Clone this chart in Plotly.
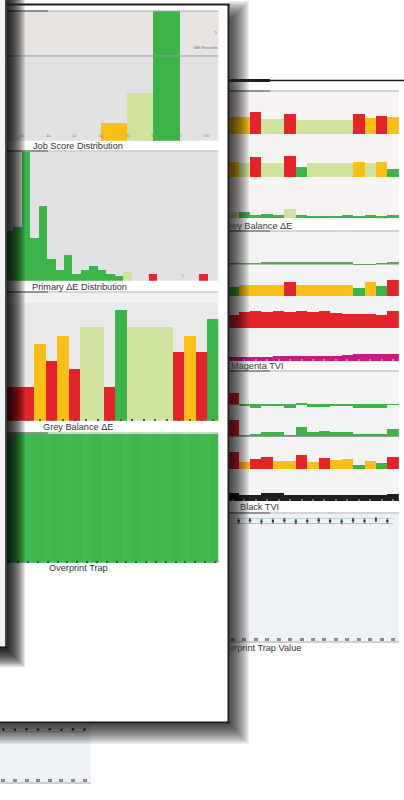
import plotly.graph_objects as go

W, H = 404, 800

G = "#3cb44a"
LG = "#cfe39e"
Y = "#fbbd18"
R = "#e2252b"
MG = "#c8197f"
K = "#1f1f1f"

# ---------------- Page A (front page) ----------------
job_score_bins = [65, 75, 85]
job_score_share = [8, 22, 70]
job_score_colors = [Y, LG, G]
job_score_ticks = [30, 40, 50, 60, 70, 80, 90, 100]
job_score_percentile = 39.2

primary_de_bins = list(range(-1, 23))
primary_de_counts = [11.5, 12.5, 31, 10, 17.5, 5, 2.5, 6, 1.5, 2.5, 3.5, 2.5,
                     1.5, 1, 2, 0, 0, 1.5, 0, 0, 0, 0, 0, 1.5]
primary_de_colors = [G, G, G, G, G, G, G, G, G, G, G, G, G, G, LG, G, G, R,
                     G, G, G, G, G, R]
primary_de_ticks = [0, 4, 8, 12, 16, 20]
primary_de_ticktext = ["0", "1", "2", "3", "4", "5"]

grey_a_patches = list(range(-1, 18))
grey_a_de = [1.07, 1.07, 1.07, 2.39, 1.87, 2.66, 1.61, 2.93, 2.93, 1.07, 3.47,
             2.93, 2.93, 2.93, 2.93, 2.14, 2.66, 2.14, 3.19]
grey_a_colors = [R, R, R, Y, R, Y, R, LG, LG, R, G, LG, LG, LG, LG, R, Y, R, G]

trap_a_patches = list(range(-2, 21))
trap_a_pct = [100, 100, 100, 100, 100, 100, 100, 100, 100, 100, 100, 100,
              100, 100, 100, 100, 100, 100, 100, 100, 100, 100, 100]

# ---------------- Page B (back page) ----------------
b_patches = list(range(15))

gb_row1 = [1.73, 1.73, 2.23, 1.47, 1.47, 2.0, 1.45, 1.45, 1.4, 1.4, 1.4, 1.97, 1.57, 1.83, 1.73]
gb_row1_c = [Y, Y, R, LG, LG, R, LG, LG, LG, LG, LG, R, Y, R, Y]
gb_row2 = [1.56, 1.46, 2.0, 1.4, 1.4, 2.13, 1.0, 1.4, 1.4, 1.4, 1.4, 1.56, 1.4, 1.56, 0.83]
gb_row2_c = [Y, LG, R, LG, LG, R, G, LG, LG, LG, LG, Y, LG, Y, G]
gb_row3 = [0.6, 0.65, 0.3, 0.4, 0.3, 0.9, 0.3, 0.25, 0.25, 0.25, 0.3, 0.25, 0.3, 0.2, 0.3]
gb_row3_c = [LG, G, G, G, G, LG, G, G, G, G, G, G, G, G, G]

mag_a = [1, 1, 1, 1.3, 1.3, 1.5, 1.5, 2, 1.5, 1.5, 1.3, -1, -0.5, 1, 2.5]
mag_b = [8.7, 11, 11, 11, 11, 14.3, 11.5, 11.5, 11, 11, 11, 7.7, 13.7, 10, 16]
mag_b_c = [G, Y, Y, Y, Y, R, Y, Y, Y, Y, Y, G, Y, G, R]
mag_c = [13.3, 16.8, 17, 16.8, 17, 16.8, 17, 16.5, 17, 15, 14, 14, 14, 13.5, 17.3]
mag_d = [4, 4, 4, 4.5, 5, 5, 5.5, 5, 5, 5.5, 6, 7, 7, 7, 7.5]

blk_a = [11, -1.3, -4, -1.3, -1.3, -3.3, 0.7, -2.5, -2.5, -2, -2, -4, -4, -3.5, -0.7]
blk_a_c = [R, G, G, G, G, G, G, G, G, G, G, G, G, G, G]
blk_b = [16, 0.7, 2, 4, 4, 1, 9.3, 4.3, 5.3, 4.3, 3.7, 2, 2, 1.5, 6.7]
blk_b_c = [R, G, G, G, G, G, G, G, G, G, G, G, G, G, G]
blk_c = [17.7, 7.7, 10, 12, 8, 8, 14.3, 7.7, 11.7, 9.3, 10.3, 4.3, 8.3, 6.7, 12.7]
blk_c_c = [R, Y, R, R, Y, Y, R, Y, R, Y, Y, G, Y, G, R]
blk_d = [8.3, 6, 6, 8, 8, 6, 6, 6, 6, 6, 6, 6, 6, 6.5, 7]

otv_pos = [0.5, 1.5, 2.5, 3.5, 4.5, 5.5, 6.5, 7.5, 8.5, 9.5, 10.5, 11.5, 12.5, 13.5]
otv_val = [94.5, 95, 94, 94.5, 95, 94, 94.5, 95, 94.5, 94, 95, 94.5, 95.5, 94.5]
otv_target = 92.5
otv_upper = 96.5

# ---------------- Page D (bottom-left fragment) ----------------
d_pos = [0, 1, 2, 3, 4, 5, 6, 7]
d_val = [90.5, 90, 91, 90.5, 91, 90, 91, 90.5]
d_target = 86.5

# =====================================================================
fig = go.Figure()
layout = {}


def axes(n, xd, yd, xr, yr, xextra=None, yextra=None):
    xa = dict(domain=[xd[0] / W, xd[1] / W], range=xr, anchor="y%d" % n,
              showgrid=False, zeroline=False, showticklabels=False,
              ticks="", showline=False, fixedrange=True)
    ya = dict(domain=[1 - yd[1] / H, 1 - yd[0] / H], range=yr, anchor="x%d" % n,
              visible=False, showgrid=False, zeroline=False, fixedrange=True)
    if xextra:
        xa.update(xextra)
    if yextra:
        ya.update(yextra)
    layout["xaxis%d" % n] = xa
    layout["yaxis%d" % n] = ya


def bars(n, x, y, colors, width=1):
    fig.add_trace(go.Bar(x=x, y=y, width=width,
                         marker=dict(color=colors, line=dict(width=0)),
                         xaxis="x%d" % n, yaxis="y%d" % n,
                         showlegend=False, hoverinfo="skip"))


AX0, AX1 = 7, 218.3
BX0, BX1 = 229, 398.85
BXR = [-0.334, 14.5]

# 1 Job score distribution
axes(1, (AX0, AX1), (11, 140.7), [24.3, 104.67], [0, 60],
     xextra=dict(tickvals=job_score_ticks, ticktext=[str(t) for t in job_score_ticks],
                 showticklabels=True, ticklabelposition="inside",
                 tickfont=dict(size=4, color="#8a8a8a", family="Liberation Sans")))
bars(1, job_score_bins, job_score_share, job_score_colors, width=10)
fig.add_trace(go.Scatter(x=[job_score_ticks[0] - 10, job_score_ticks[-1] + 10],
                         y=[job_score_percentile, job_score_percentile], mode="lines",
                         line=dict(color="#9a9a9a", width=1), xaxis="x1", yaxis="y1",
                         showlegend=False, hoverinfo="skip"))

# 2 Primary dE distribution
axes(2, (AX0, AX1), (152, 280.7), [-0.746, 24.26], [0, 30],
     xextra=dict(tickvals=primary_de_ticks, ticktext=primary_de_ticktext,
                 showticklabels=True, ticklabelposition="inside",
                 tickfont=dict(size=4, color="#8a8a8a", family="Liberation Sans")))
bars(2, [b + 0.5 for b in primary_de_bins], primary_de_counts, primary_de_colors)

# 3 Grey balance (page A)
axes(3, (AX0, AX1), (293, 420.7), [-0.857, 17.44], [0, 4],
     xextra=dict(tickvals=grey_a_patches, ticks="inside", ticklen=2, tickwidth=1.5,
                 tickcolor="#5a5a3a"))
bars(3, grey_a_patches, grey_a_de, grey_a_colors)

# 4 Overprint trap (page A)
axes(4, (AX0, AX1), (434, 562.7), [-1.15, 20.35], [0, 100],
     xextra=dict(tickvals=trap_a_patches, ticks="inside", ticklen=2, tickwidth=2,
                 tickcolor="#1f6a2c"))
bars(4, trap_a_patches, trap_a_pct,
     ["#3db64b" if i % 2 == 0 else "#43b950" for i in range(len(trap_a_patches))])

# 5-7 Grey balance (page B)
axes(5, (BX0, BX1), (98, 134), BXR, [0, 3.6])
bars(5, b_patches, gb_row1, gb_row1_c)
axes(6, (BX0, BX1), (141, 177.3), BXR, [0, 3.63])
bars(6, b_patches, gb_row2, gb_row2_c)
axes(7, (BX0, BX1), (185, 218.3), BXR, [0, 3.33])
bars(7, b_patches, gb_row3, gb_row3_c)

# 8-11 Magenta TVI
axes(8, (BX0, BX1), (240, 272), BXR, [-8, 24],
     yextra=dict(visible=True, showticklabels=False, zeroline=True,
                 zerolinecolor="#a9c9a9", zerolinewidth=1))
bars(8, b_patches, mag_a, "#5aa75a")
axes(9, (BX0, BX1), (275, 296), BXR, [0, 21])
bars(9, b_patches, mag_b, mag_b_c)
axes(10, (BX0, BX1), (305, 328.3), BXR, [0, 23.3])
bars(10, b_patches, mag_c, R)
axes(11, (BX0, BX1), (340, 361), BXR, [0, 21],
     xextra=dict(tickvals=b_patches, ticks="inside", ticklen=2, tickwidth=2,
                 tickcolor="#e070b0"))
bars(11, b_patches, mag_d, MG)

# 12-15 Black TVI
axes(12, (BX0, BX1), (385, 412), BXR, [-7.7, 19.3],
     yextra=dict(visible=True, showticklabels=False, zeroline=True,
                 zerolinecolor="#9a9a9a", zerolinewidth=1))
bars(12, b_patches, blk_a, blk_a_c)
axes(13, (BX0, BX1), (418, 436), BXR, [0, 18],
     xextra=dict(showline=True, linecolor="#9a9a9a", linewidth=1))
bars(13, b_patches, blk_b, blk_b_c)
axes(14, (BX0, BX1), (450, 469.3), BXR, [0, 19.3])
bars(14, b_patches, blk_c, blk_c_c)
axes(15, (BX0, BX1), (485, 501), BXR, [0, 16],
     xextra=dict(tickvals=b_patches, ticks="inside", ticklen=2, tickwidth=2,
                 tickcolor="#777777"))
bars(15, b_patches, blk_d, K)

# 16 Overprint trap value (page B)
axes(16, (BX0, BX1), (514, 641), BXR, [0, 100],
     xextra=dict(tickvals=b_patches, ticks="inside", ticklen=3, tickwidth=4,
                 tickcolor="#8c8c8c", showline=True, linecolor="#d0d0d0", linewidth=2))
fig.add_trace(go.Scatter(x=[p - 0.5 for p in otv_pos] + [otv_pos[-1] + 0.5],
                         y=[otv_upper] * (len(otv_pos) + 1), mode="lines",
                         line=dict(color="#b2dccb", width=1), xaxis="x16", yaxis="y16",
                         showlegend=False, hoverinfo="skip"))
fig.add_trace(go.Scatter(x=[p - 0.5 for p in otv_pos] + [otv_pos[-1] + 0.5],
                         y=[otv_target] * (len(otv_pos) + 1), mode="lines",
                         line=dict(color="#eaa6bb", width=1), xaxis="x16", yaxis="y16",
                         showlegend=False, hoverinfo="skip"))
fig.add_trace(go.Scatter(x=otv_pos, y=otv_val, mode="markers",
                         marker=dict(size=2.5, color="#333333"),
                         error_y=dict(type="constant", value=1.6, thickness=0.8, width=1,
                                      color="#555555"),
                         xaxis="x16", yaxis="y16", showlegend=False, hoverinfo="skip"))

# 17 Page D fragment
axes(17, (0, 90.7), (724, 782), [-0.284, 7.53], [0, 100],
     xextra=dict(tickvals=d_pos, ticks="inside", ticklen=3, tickwidth=4,
                 tickcolor="#8c8c8c", showline=True, linecolor="#d0d0d0", linewidth=2))
fig.add_trace(go.Scatter(x=d_pos, y=[d_target] * len(d_pos), mode="lines",
                         line=dict(color="#eaa6bb", width=1), xaxis="x17", yaxis="y17",
                         showlegend=False, hoverinfo="skip"))
fig.add_trace(go.Scatter(x=d_pos, y=d_val, mode="markers",
                         marker=dict(size=2.5, color="#333333"),
                         xaxis="x17", yaxis="y17", showlegend=False, hoverinfo="skip"))

# ---------------- shapes ----------------
shapes = []


def rect(x0, y0, x1, y1, fill, layer="below"):
    shapes.append(dict(type="rect", xref="paper", yref="paper", x0=x0 / W, x1=x1 / W,
                       y0=1 - y1 / H, y1=1 - y0 / H, fillcolor=fill,
                       line=dict(width=0), layer=layer))


def hline(x0, x1, y, color, width=1, layer="above"):
    shapes.append(dict(type="line", xref="paper", yref="paper", x0=x0 / W, x1=x1 / W,
                       y0=1 - y / H, y1=1 - y / H, line=dict(color=color, width=width),
                       layer=layer))


def vline(x, y0, y1, color, width=1, layer="above"):
    shapes.append(dict(type="line", xref="paper", yref="paper", x0=x / W, x1=x / W,
                       y0=1 - y0 / H, y1=1 - y1 / H, line=dict(color=color, width=width),
                       layer=layer))


# chart backgrounds
rect(0, 0, 6, 647, "#f3f3f3")
rect(AX0, 11, AX1, 140.7, "#e2e2e2")
rect(AX0, 11, AX1, 56, "#e7e4e1")
rect(AX0, 152, AX1, 280.7, "#e2e2e4")
rect(AX0, 293, AX1, 420.7, "#e9e9e9")
rect(AX0, 293, AX1, 303, "#f0f0f0")
rect(BX0, 92, BX1, 218.3, "#f9f4f4")
rect(BX0, 232, BX1, 361, "#f4f3f3")
rect(BX0, 372, BX1, 501, "#f4f4f4")
rect(BX0, 514, BX1, 641, "#eef2f6")
rect(0, 724, 90.7, 782, "#eef2f6")

# separator lines
for yy in (11, 151, 292, 433):
    hline(AX0, AX1, yy, "#a8a8a8", 1)
    hline(AX0, 48, yy, "#555555", 1)
for yy in (91, 231, 371, 513):
    hline(BX0, BX1, yy, "#a8a8a8", 1)
    hline(BX0, 270, yy, "#555555", 1)


def soft_shadow(core, edge_x, edge_y, r, n, alpha):
    cx0, cx1, cy0, cy1 = core
    for k in range(n):
        e = r - 2.0 * r * k / (n - 1)
        x0, x1, y0, y1 = cx0 - e, cx1 + e, cy0 - e, cy1 + e
        col = "rgba(0,0,0,%.3f)" % alpha
        if x1 > edge_x:
            rect(edge_x, y0, x1, y1, col, "above")
        if y1 > edge_y:
            rect(x0, edge_y, edge_x, y1, col, "above")


# page A drop shadow (over page B and fragment D)
soft_shadow((-80, 236, 14, 731), 229.3, 723.3, 13, 20, 0.075)
# page C drop shadow (over page A)
soft_shadow((-80, 13, -80, 655), 6.8, 647.8, 12, 20, 0.11)

# page borders
hline(6, 229.5, 4.5, "#1c1c1c", 2)
vline(228.5, 4.5, 723.5, "#1c1c1c", 2)
hline(0, 229.5, 722.5, "#1c1c1c", 2)
vline(6, 0, 648, "#1c1c1c", 1.6)
hline(0, 6.8, 647.2, "#1c1c1c", 1.6)
hline(229.5, 404, 80.5, "#1c1c1c", 1.6)
hline(229.5, 270, 80.5, "#1c1c1c", 3)

# ---------------- annotations ----------------
ann = []


def text(x, y, s, size=9.2, color="#333333", anchor="left"):
    ann.append(dict(xref="paper", yref="paper", x=x / W, y=1 - y / H, text=s,
                    showarrow=False, xanchor=anchor, yanchor="middle",
                    font=dict(size=size, color=color, family="Liberation Sans"),
                    borderpad=0))


text(32, 146, "Job Score Distribution")
text(31, 286.7, "Primary \u0394E Distribution")
text(42, 426.7, "Grey Balance \u0394E")
text(48, 567.7, "Overprint Trap")
text(227.8, 225.5, "rey Balance \u0394E")
text(229.8, 366, "Magenta TVI")
text(238.5, 506.7, "Black TVI")
text(227.8, 648.3, "erprint Trap Value")
text(218, 48, "68th Percentile", size=3.5, color="#666666", anchor="right")
text(218, 33, "5", size=3.5, color="#666666", anchor="right")

layout.update(dict(width=W, height=H, margin=dict(l=0, r=0, t=0, b=0),
                   paper_bgcolor="white", plot_bgcolor="rgba(0,0,0,0)",
                   showlegend=False, bargap=0, shapes=shapes, annotations=ann,
                   font=dict(family="Liberation Sans")))
layout["xaxis"] = layout.pop("xaxis1")
layout["yaxis"] = layout.pop("yaxis1")
for tr in fig.data:
    if tr.xaxis == "x1":
        tr.xaxis = "x"
        tr.yaxis = "y"
layout["xaxis"]["anchor"] = "y"
layout["yaxis"]["anchor"] = "x"
fig.update_layout(layout)
fig.write_html("out.html", config={"displayModeBar": False},
               post_script="document.body.style.margin='0';")
